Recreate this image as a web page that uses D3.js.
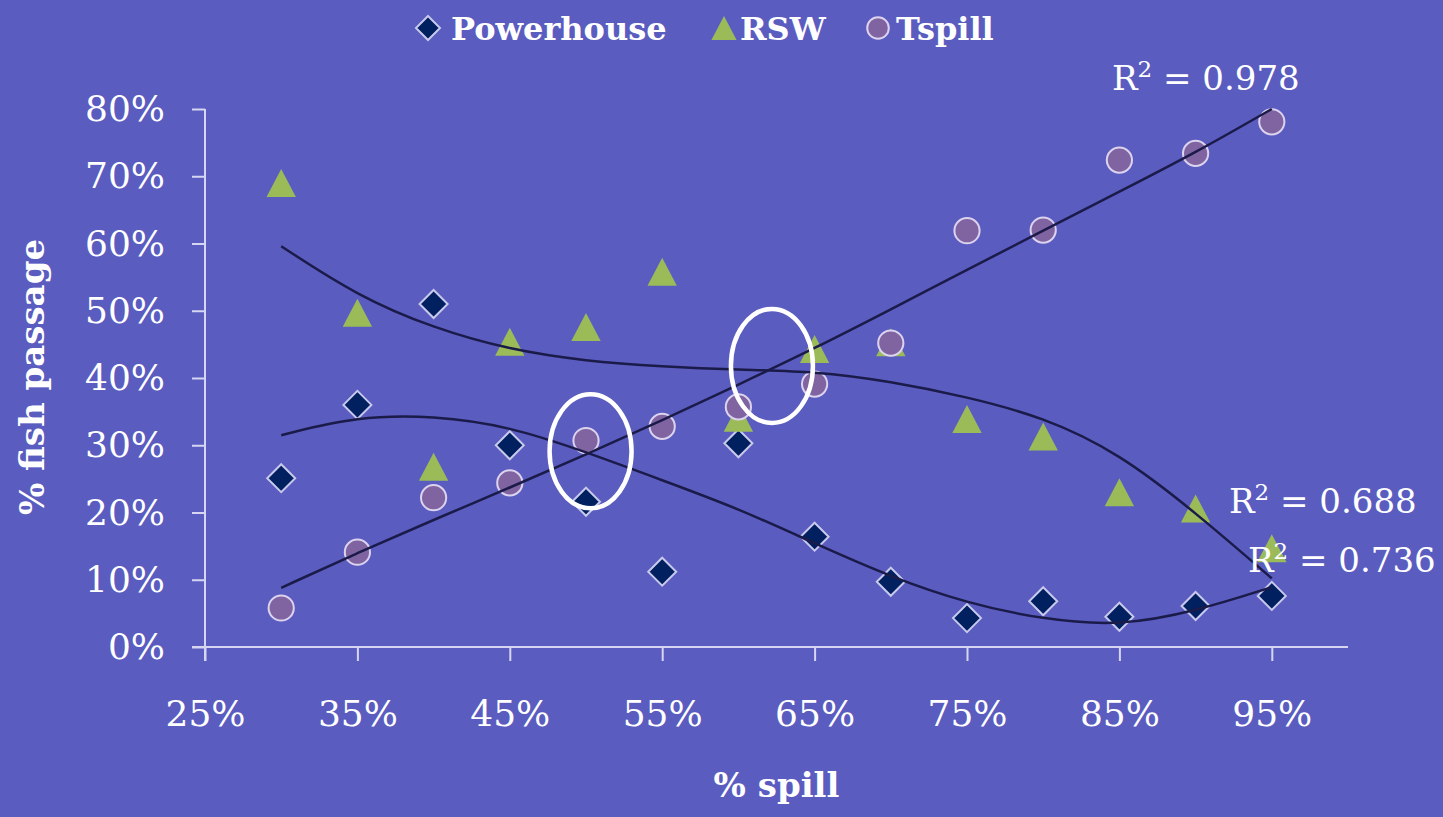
<!DOCTYPE html>
<html><head><meta charset="utf-8">
<script src="https://cdn.jsdelivr.net/npm/d3@7"></script>
<style>html,body{margin:0;padding:0;background:#5a5cc0;} svg{display:block;}</style>
</head><body><svg id="c" width="1443" height="817"></svg>
<script>
const spill = [30,35,40,45,50,55,60,65,70,75,80,85,90,95];
const powerhouse = [25.1,36.0,51.0,30.0,21.6,11.2,30.3,16.4,9.7,4.3,6.8,4.5,6.1,7.6];
const rsw = [69.0,49.7,26.8,45.4,47.6,55.8,34.1,44.3,45.3,33.9,31.3,23.0,20.6,14.7];
const tspill = [5.8,14.1,22.2,24.4,30.7,32.8,35.7,39.1,45.2,61.9,62.0,72.4,73.4,78.1];
const powerhouseTrend = [31.5,34.3,34.4,32.8,29.0,24.8,20.6,15.4,10.4,6.5,4.1,3.1,5.3,8.9];
const rswTrend = [59.6,52.2,47.4,44.2,42.5,41.7,41.2,41.0,39.5,37.2,34.2,28.8,20.0,10.2];
const tspillTrend = [8.8,14.0,18.9,23.7,28.6,33.7,39.0,44.4,50.2,56.1,61.9,67.7,73.5,80.0];
const xTicks = [25,35,45,55,65,75,85,95];
const yTicks = [0,10,20,30,40,50,60,70,80];
const seriesNames = ["Powerhouse","RSW","Tspill"];
const r2Labels = ["0.978","0.688","0.736"];
const highlights = [[50.3,29.1],[62.2,41.8]];

const FONT = "'DejaVu Serif', serif";
const W = 1443, H = 817;
const svg = d3.select("#c");
svg.append("rect").attr("width",W).attr("height",H).attr("fill","#5a5cc0");

const x = d3.scaleLinear().domain([25,100]).range([205,1348]);
const y = d3.scaleLinear().domain([0,80]).range([647,109]);
const axisCol = "#d6d6f2";

// X axis
const gx = svg.append("g").attr("transform",`translate(0,${y(0)})`)
  .call(d3.axisBottom(x).tickValues(xTicks).tickSize(14).tickSizeOuter(0).tickPadding(39).tickFormat(d=>d+"%"));
gx.select(".domain").remove();
gx.append("line").attr("x1",x(25)-13).attr("x2",x(100)).attr("y1",0).attr("y2",0).attr("stroke",axisCol).attr("stroke-width",2);
gx.selectAll(".tick line").attr("stroke",axisCol).attr("stroke-width",2);
gx.selectAll(".tick text").attr("fill","#fff").attr("font-family",FONT).attr("font-size",36);

// Y axis
const gy = svg.append("g").attr("transform",`translate(${x(25)},0)`)
  .call(d3.axisLeft(y).tickValues(yTicks).tickSize(13).tickSizeOuter(0).tickPadding(27).tickFormat(d=>d+"%"));
gy.select(".domain").remove();
gy.append("line").attr("x1",0).attr("x2",0).attr("y1",y(80)).attr("y2",y(0)+14).attr("stroke",axisCol).attr("stroke-width",2);
gy.selectAll(".tick line").attr("stroke",axisCol).attr("stroke-width",2);
gy.selectAll(".tick text").attr("fill","#fff").attr("font-family",FONT).attr("font-size",36);

// Titles
svg.append("text").attr("x",(x(25)+x(100))/2).attr("y",797).attr("text-anchor","middle")
  .attr("font-family",FONT).attr("font-weight","bold").attr("font-size",34).attr("fill","#fff").text("% spill");
svg.append("text").attr("transform",`translate(44,377) rotate(-90)`).attr("text-anchor","middle")
  .attr("font-family",FONT).attr("font-weight","bold").attr("font-size",34).attr("fill","#fff").text("% fish passage");

// marker shapes
const diamondPath = s => `M0,${-s}L${s},0L0,${s}L${-s},0Z`;
const trianglePath = s => `M0,${-s}L${s*1.05},${s}L${-s*1.05},${s}Z`;

const markers = {
  Powerhouse: (g,s)=>g.append("path").attr("d",diamondPath(s)).attr("fill","#002060").attr("stroke","#c9c9ec").attr("stroke-width",2),
  RSW: (g,s)=>g.append("path").attr("d",trianglePath(s)).attr("fill","#9bbb59"),
  Tspill: (g,s)=>g.append("circle").attr("r",s*0.9).attr("fill","#8064a2").attr("stroke","#dcd3ee").attr("stroke-width",2)
};

const seriesData = {Powerhouse: powerhouse, RSW: rsw, Tspill: tspill};
const trendData = {Powerhouse: powerhouseTrend, RSW: rswTrend, Tspill: tspillTrend};

seriesNames.forEach(name=>{
  const g = svg.append("g");
  seriesData[name].forEach((v,i)=>{
    const m = g.append("g").attr("transform",`translate(${x(spill[i])},${y(v)})`);
    markers[name](m,14);
  });
});

// trendlines
const line = d3.line().x((d,i)=>x(spill[i])).y(d=>y(d)).curve(d3.curveBasis);
seriesNames.forEach(name=>{
  svg.append("path").attr("d",line(trendData[name])).attr("fill","none")
    .attr("stroke","#1b1b4a").attr("stroke-width",2.5);
});

// R² labels
const r2Pos = [[1112,90],[1229,513],[1248,572]];
r2Labels.forEach((t,i)=>{
  const tx = svg.append("text").attr("x",r2Pos[i][0]).attr("y",r2Pos[i][1])
    .attr("font-family",FONT).attr("font-size",34).attr("fill","#fff");
  tx.append("tspan").text("R");
  tx.append("tspan").attr("font-size",23).attr("dy",-13).text("2");
  tx.append("tspan").attr("dy",13).text(" = "+t);
});

// highlight ellipses
highlights.forEach(h=>{
  svg.append("ellipse").attr("cx",x(h[0])).attr("cy",y(h[1])).attr("rx",41).attr("ry",57)
    .attr("fill","none").attr("stroke","#fff").attr("stroke-width",4.5);
});

// Legend
const legendPos = [[428,451],[724,740],[878,896]];
seriesNames.forEach((name,i)=>{
  const m = svg.append("g").attr("transform",`translate(${legendPos[i][0]},28)`);
  markers[name](m,12);
  svg.append("text").attr("x",legendPos[i][1]).attr("y",40).attr("font-family",FONT)
    .attr("font-weight","bold").attr("font-size",32).attr("fill","#fff").text(name);
});
</script></body></html>
